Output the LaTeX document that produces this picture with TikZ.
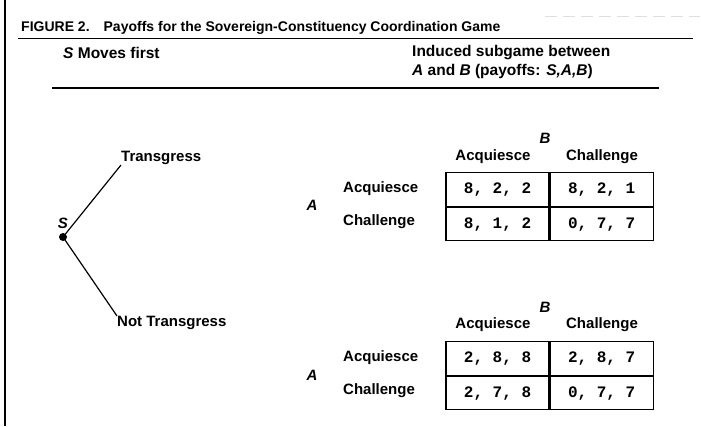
\documentclass[tikz,border=0pt]{standalone}
\usepackage{fontspec}
\setmainfont{Liberation Sans}
\setmonofont{Liberation Mono}
\usepackage{tikz}
\usetikzlibrary{positioning}

\tikzset{
  txt/.style={inner sep=0pt,font=\fontsize{15}{18}\selectfont\bfseries},
  head/.style={inner sep=0pt,font=\fontsize{15.5}{18}\selectfont\bfseries},
  player/.style={inner sep=0pt,font=\fontsize{15}{18}\selectfont\bfseries\itshape},
  cell/.style={draw,line width=1.1pt,minimum width=103pt,minimum height=33.5pt,
    inner sep=0pt,font=\fontsize{16}{18}\selectfont\ttfamily\bfseries},
  rule/.style={line width=1.1pt},
  branch/.style={line width=1.2pt}
}

\begin{document}
\begin{tikzpicture}[x=1pt,y=-1pt]
  \useasboundingbox (0,0) rectangle (701,426);
  \draw [line width=1.2pt] (5,0) -- (5,426);
  \draw [gray!25,line width=0.8pt,dash pattern=on 12pt off 6pt] (545,16) -- (700,16);
  % heading
  \node (title) [inner sep=0pt,anchor=west,font=\fontsize{14}{16}\selectfont\bfseries] at (21,28)
    {FIGURE 2.\hspace{14pt}Payoffs for the Sovereign-Constituency Coordination Game};
  \draw [rule] (18,38.5) -- (693,38.5);
  \node (left) [head,anchor=west] at (63,53) {\textit{S} Moves first};
  \node (right1) [head,anchor=west] at (412,53) {Induced subgame between};
  \node (right2) [head,anchor=west] at (412,71)
    {\textit{A} and \textit{B} (payoffs: \textit{S,A,B})};
  \draw [rule] (52,88) -- (659,88);

  % tree
  \node (S) [circle,fill,inner sep=0pt,minimum size=8pt,label={[player,yshift=4pt]above:S}] at (63,237) {};
  \node (T) [txt,anchor=south west] at (121,165) {Transgress};
  \node (N) [txt,anchor=north west] at (117,316) {Not Transgress};
  \draw [branch] (S.center) -- (T.south west);
  \draw [branch] (S.center) -- (N.north west);

  % subgame after Transgress
  \node (tB) [player] at (545,138) {B};
  \node (tBa) [txt] at (493,157) {Acquiesce};
  \node (tBc) [txt] at (602,157) {Challenge};
  \node (tA) [player] at (312,205) {A};
  \node (tAa) [txt,anchor=west] at (343,189) {Acquiesce};
  \node (tAc) [txt,anchor=west] at (343,222) {Challenge};
  \node (t11) [cell] at (497.5,189.5) {8, 2, 2};
  \node (t12) [cell,right=0pt of t11] {8, 2, 1};
  \node (t21) [cell,below=0pt of t11] {8, 1, 2};
  \node (t22) [cell,right=0pt of t21] {0, 7, 7};

  % subgame after Not Transgress
  \node (nB) [player] at (545,307) {B};
  \node (nBa) [txt] at (493,325) {Acquiesce};
  \node (nBc) [txt] at (602,325) {Challenge};
  \node (nA) [player] at (312,375) {A};
  \node (nAa) [txt,anchor=west] at (343,358) {Acquiesce};
  \node (nAc) [txt,anchor=west] at (343,391) {Challenge};
  \node (n11) [cell] at (497.5,358.5) {2, 8, 8};
  \node (n12) [cell,right=0pt of n11] {2, 8, 7};
  \node (n21) [cell,below=0pt of n11] {2, 7, 8};
  \node (n22) [cell,right=0pt of n21] {0, 7, 7};
\end{tikzpicture}
\end{document}
